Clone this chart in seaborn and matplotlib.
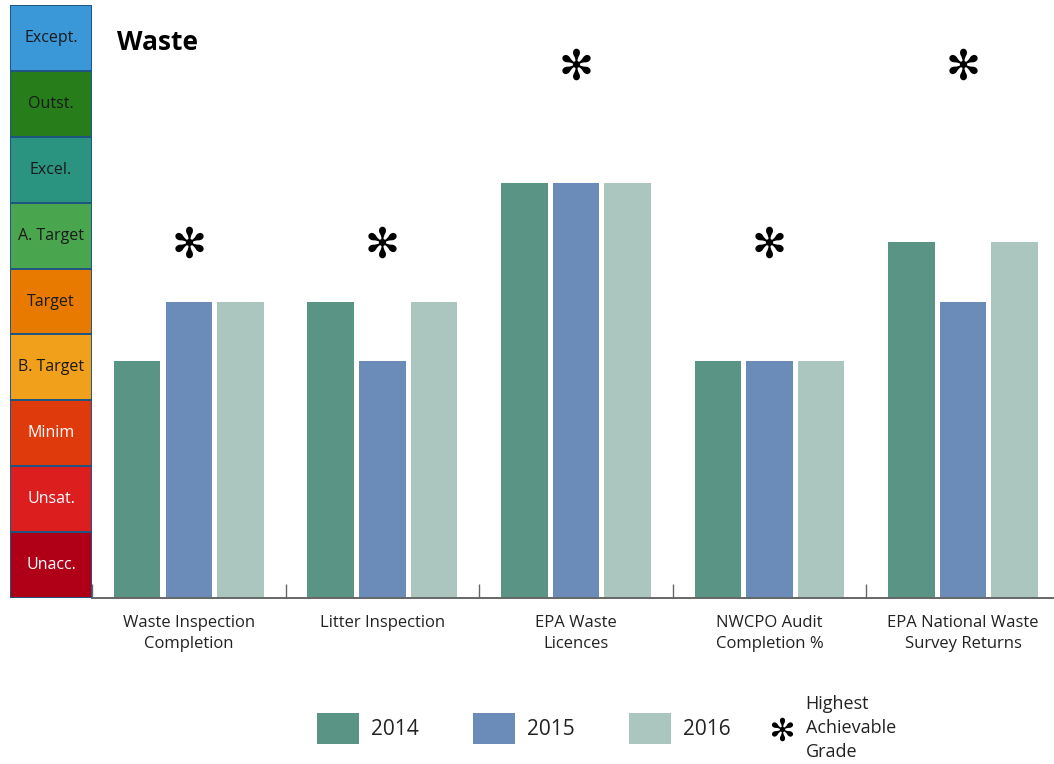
import matplotlib
matplotlib.use("Agg")
import matplotlib.pyplot as plt
from matplotlib.patches import Patch
from matplotlib.lines import Line2D
import numpy as np
import pandas as pd
import seaborn as sns

# Performance measures (grade units on a 0-10 scale)
categories = ["Waste Inspection\nCompletion", "Litter Inspection", "EPA Waste\nLicences",
              "NWCPO Audit\nCompletion %", "EPA National Waste\nSurvey Returns"]
years = ["2014", "2015", "2016"]
values_2014 = [4, 5, 7, 4, 6]
values_2015 = [5, 4, 7, 4, 5]
values_2016 = [5, 5, 7, 4, 6]
highest_grade = [6, 6, 9, 6, 9]

# Grade scale shown down the left side (top to bottom)
grade_labels = ["Except.", "Outst.", "Excel.", "A. Target", "Target",
                "B. Target", "Minim", "Unsat.", "Unacc."]
grade_colors = ["#3a97d8", "#267d1a", "#2a9480", "#4aa64e", "#e97a00",
                "#f0a01b", "#df3a0b", "#dc1e1f", "#b00018"]
grade_text = ["#1a1a1a"] * 6 + ["white"] * 3

year_colors = ["#5a9484", "#6b8cb8", "#abc6be"]

df = pd.DataFrame({
    "measure": categories * 3,
    "year": [y for y in years for _ in categories],
    "grade": values_2014 + values_2015 + values_2016,
})

sns.set_theme(style="white")
plt.rcParams["font.family"] = ["Open Sans", "DejaVu Sans"]

W, H = 1054, 764
fig = plt.figure(figsize=(W / 100, H / 100), dpi=100)

y_bottom = (H - 598) / H
y_top = (H - 5) / H
ax = fig.add_axes([92 / W, y_bottom, 1 - 92 / W, y_top - y_bottom])
scale_ax = fig.add_axes([10 / W, y_bottom, (92 - 10) / W, y_top - y_bottom])

# Grade scale column
step = 10 / len(grade_labels)
for i, (lab, col, tc) in enumerate(zip(grade_labels, grade_colors, grade_text)):
    lo = 10 - (i + 1) * step
    scale_ax.bar(0.5, step, bottom=lo, width=1.0, color=col,
                 edgecolor="#1f5582", linewidth=1.4)
    scale_ax.text(0.5, lo + step / 2, lab, ha="center", va="center",
                  fontsize=11.5, color=tc)
scale_ax.set_xlim(0, 1)
scale_ax.set_ylim(0, 10)
scale_ax.axis("off")

# Grouped bars
sns.barplot(data=df, x="measure", y="grade", hue="year", palette=year_colors,
            width=0.8, gap=0.1, saturation=1, linewidth=0, ax=ax, legend=False)

# Highest achievable grade markers
ax.scatter(np.arange(len(categories)), highest_grade, marker="$\u273b$",
           s=520, color="black", zorder=5, linewidths=0)

ax.set_xlim(-0.5, 4.47)
ax.set_ylim(0, 10)
ax.set_xlabel("")
ax.set_ylabel("")
ax.set_yticks([])
for s in ["top", "right", "left"]:
    ax.spines[s].set_visible(False)
ax.spines["bottom"].set_color("#666666")
ax.spines["bottom"].set_linewidth(1.4)
ax.tick_params(axis="x", which="major", length=0, pad=12, labelsize=12, labelcolor="#222222")
for t in ax.get_xticklabels():
    t.set_linespacing(1.45)
ax.set_xticks([-0.5, 0.5, 1.5, 2.5, 3.5], minor=True)
ax.tick_params(axis="x", which="minor", bottom=True, direction="in", length=10,
               width=1, color="#666666")

ax.text(0.026, 0.936, "Waste", transform=ax.transAxes, fontsize=19,
        fontweight="bold", color="black", va="center")

# Legend: year swatches
handles = [Patch(facecolor=c, edgecolor="none") for c in year_colors]
leg = fig.legend(handles, years, loc="center", bbox_to_anchor=(0.497, 0.047), ncol=3,
                 frameon=False, fontsize=15, handlelength=2.0, handleheight=1.9,
                 handletextpad=0.6, columnspacing=2.6)
for t in leg.get_texts():
    t.set_color("#222222")

# Legend: highest achievable grade marker
star = Line2D([], [], linestyle="none", marker="$\u273b$", markersize=17,
              color="black", markeredgewidth=0)
leg2 = fig.legend([star], ["Highest\nAchievable\nGrade"], loc="center left",
                  bbox_to_anchor=(0.7315, 0.047), frameon=False, fontsize=13,
                  handlelength=1.2, handletextpad=0.72, borderpad=0, borderaxespad=0)
for t in leg2.get_texts():
    t.set_color("#222222")
    t.set_linespacing(1.4)

fig.savefig("out.png", dpi=100)
